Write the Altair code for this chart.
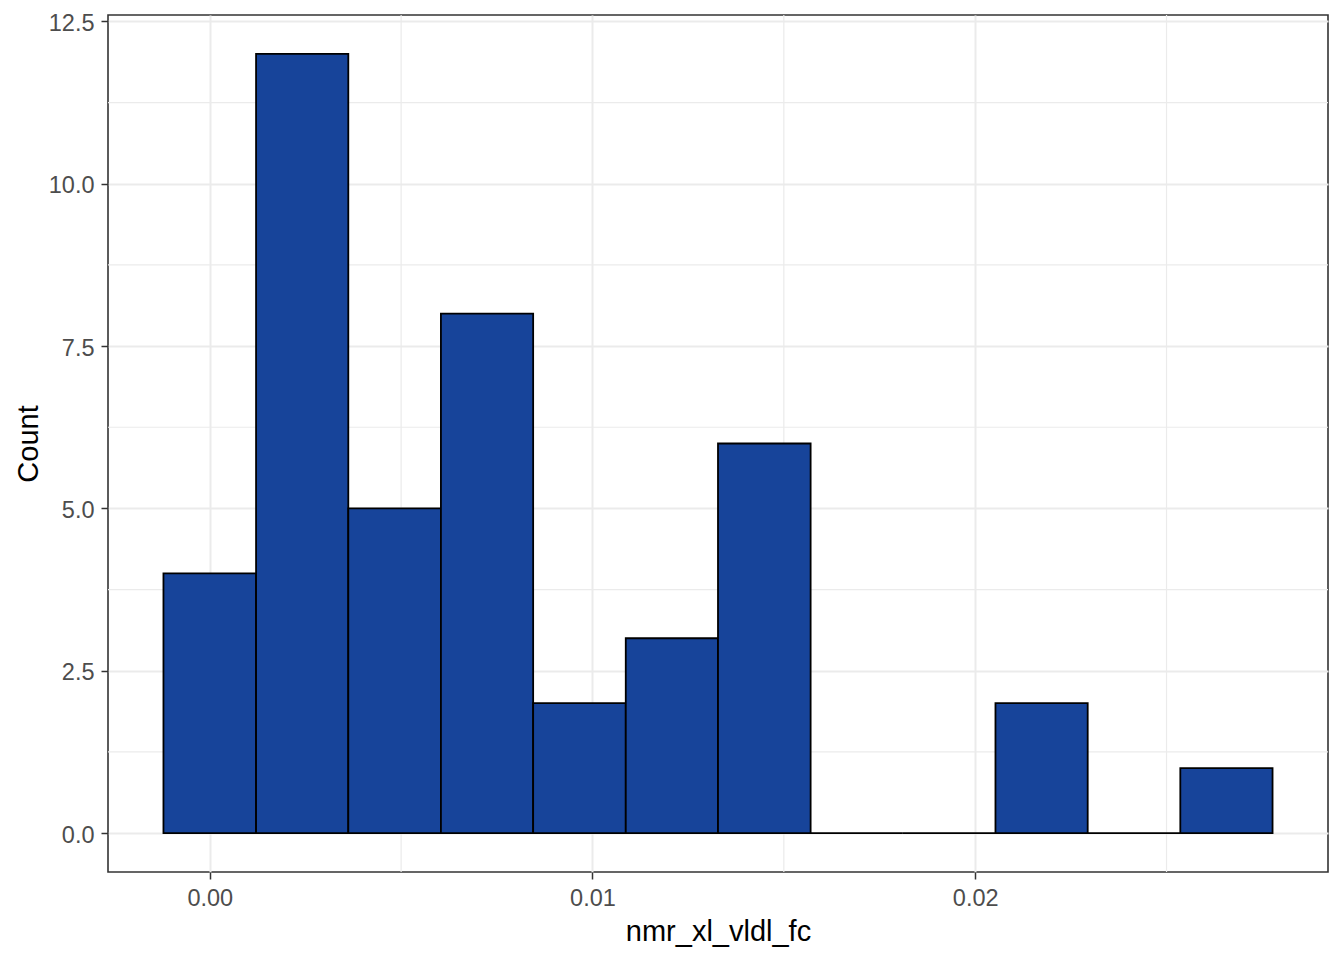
import altair as alt
import pandas as pd

# Histogram bins
bin_left = [-0.00121, 0.00121, 0.00362, 0.00604, 0.00845, 0.01087,
            0.01328, 0.01570, 0.01811, 0.02053, 0.02294, 0.02536]
bin_right = [0.00121, 0.00362, 0.00604, 0.00845, 0.01087, 0.01328,
             0.01570, 0.01811, 0.02053, 0.02294, 0.02536, 0.02777]
counts = [4, 12, 5, 8, 2, 3, 6, 0, 0, 2, 0, 1]

x_ticks = [0.0, 0.01, 0.02]
y_ticks = [0.0, 2.5, 5.0, 7.5, 10.0, 12.5]
x_minor = [0.005, 0.015, 0.025]
y_minor = [1.25, 3.75, 6.25, 8.75, 11.25]

x_domain = [-0.002659, 0.029219]
y_domain = [-0.6, 12.6]

FONT = "Liberation Sans"

bars_df = pd.DataFrame({"x": bin_left, "x2": bin_right, "count": counts})
xminor_df = pd.DataFrame({"v": x_minor})
yminor_df = pd.DataFrame({"v": y_minor})

xscale = alt.Scale(domain=x_domain, nice=False, zero=False)
yscale = alt.Scale(domain=y_domain, nice=False, zero=False)

xaxis = alt.Axis(
    values=x_ticks, format=".2f", title="nmr_xl_vldl_fc",
    grid=True, gridColor="#EBEBEB", gridWidth=2,
    domain=False, tickColor="#333333", tickWidth=1.5, tickSize=7,
    labelFont=FONT, labelFontSize=23.5, labelColor="#4D4D4D",
    labelBaseline="alphabetic", labelPadding=26,
    titleFont=FONT, titleFontSize=29, titleColor="#000000",
    titleFontWeight="normal", titleBaseline="alphabetic", titleY=68,
)
yaxis = alt.Axis(
    values=y_ticks, format=".1f", title="Count",
    grid=True, gridColor="#EBEBEB", gridWidth=2,
    domain=False, tickColor="#333333", tickWidth=1.5, tickSize=7,
    labelFont=FONT, labelFontSize=23.5, labelColor="#4D4D4D",
    labelPadding=7, labelBaseline="middle", labelOffset=2,
    titleFont=FONT, titleFontSize=29, titleColor="#000000",
    titleFontWeight="normal", titleBaseline="alphabetic", titleX=-71,
    titleAngle=270,
)

xminor = alt.Chart(xminor_df).mark_rule(color="#EBEBEB", strokeWidth=1.2).encode(
    x=alt.X("v:Q", scale=xscale, axis=xaxis)
)
yminor = alt.Chart(yminor_df).mark_rule(color="#EBEBEB", strokeWidth=1.2).encode(
    y=alt.Y("v:Q", scale=yscale, axis=yaxis)
)

bars = alt.Chart(bars_df).mark_rect(
    color="#17449A", stroke="#000000", strokeWidth=1.8
).encode(
    x=alt.X("x:Q", scale=xscale, axis=xaxis),
    x2="x2:Q",
    y=alt.Y("count:Q", scale=yscale, axis=yaxis),
    y2=alt.datum(0),
)

chart = alt.layer(xminor, yminor, bars).properties(
    width=1220, height=857,
    autosize=alt.AutoSizeParams(type="none"),
    padding={"left": 100, "top": 7, "right": 8, "bottom": 80},
    background="#FFFFFF",
).configure_view(
    stroke="#333333", strokeWidth=1.6
)

chart.save("out.html", embed_options={"renderer": "svg", "actions": False})
